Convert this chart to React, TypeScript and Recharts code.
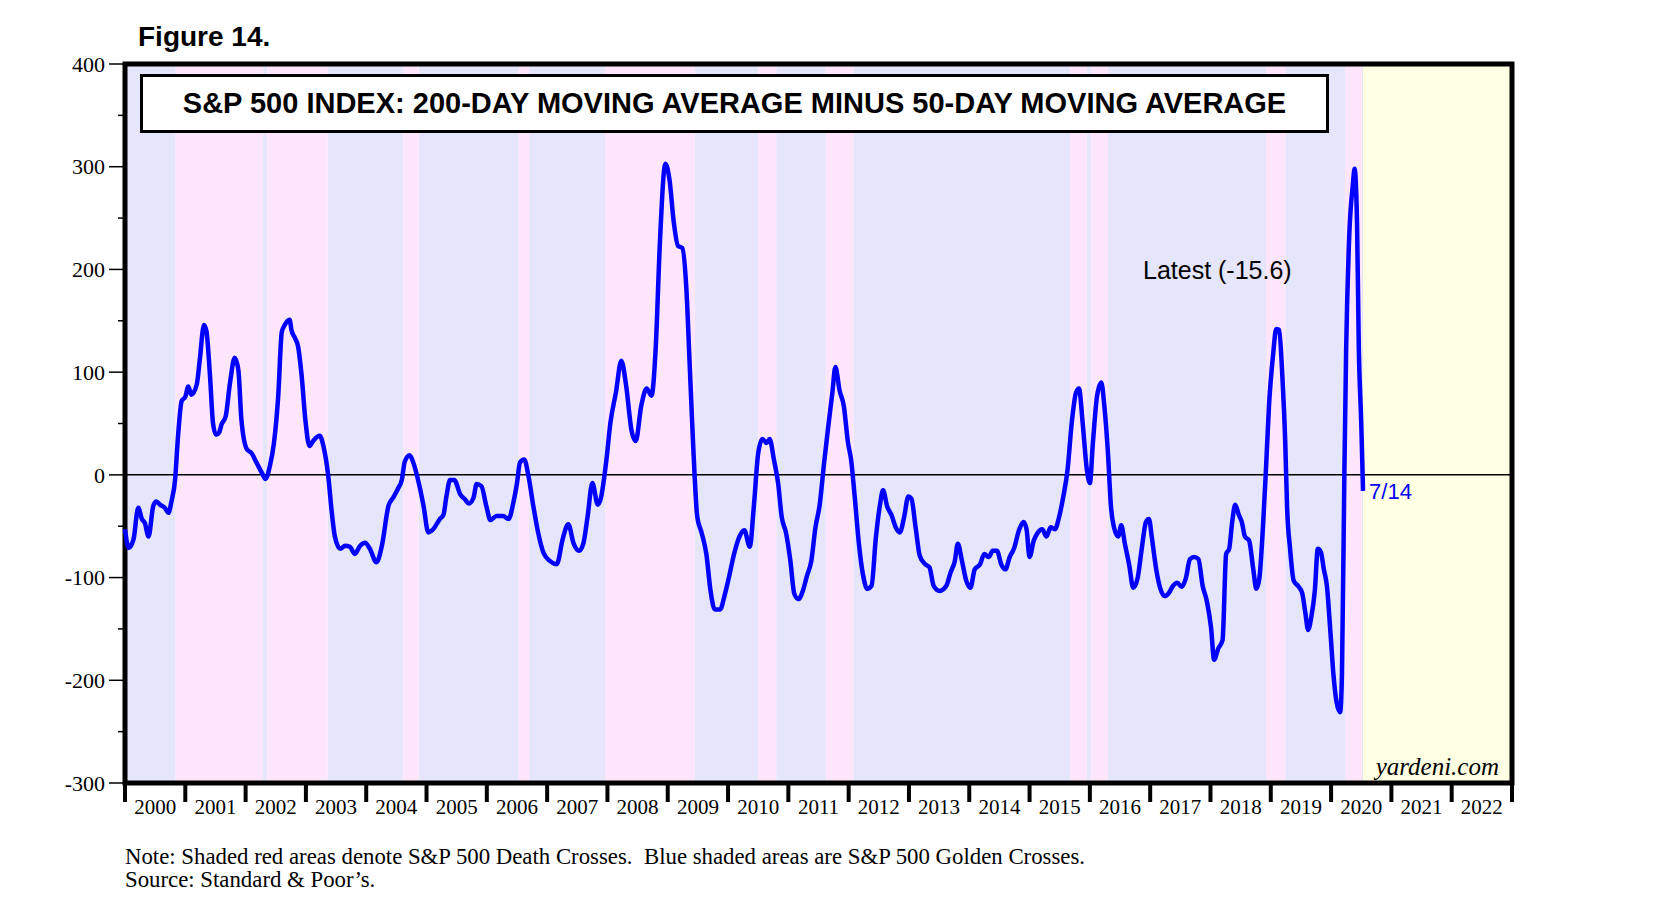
import React from "react";
import {
  LineChart,
  Line,
  XAxis,
  YAxis,
  ReferenceArea,
  ReferenceLine,
  ReferenceDot,
} from "recharts";

// dates as decimal years, spread = 200dma - 50dma (S&P 500 points)
const dates = [
  2000.0, 2000.06, 2000.14, 2000.22, 2000.28, 2000.33, 2000.39, 2000.47, 2000.52, 2000.58, 2000.66, 2000.72, 2000.77, 2000.83, 2000.88, 2000.94,
  2001.0, 2001.05, 2001.1, 2001.19, 2001.24, 2001.31, 2001.35, 2001.41, 2001.46, 2001.51, 2001.56, 2001.6, 2001.67, 2001.74, 2001.82, 2001.88, 2001.93,
  2002.02, 2002.1, 2002.18, 2002.27, 2002.33, 2002.4, 2002.47, 2002.54, 2002.6, 2002.65, 2002.73, 2002.76, 2002.82, 2002.87, 2002.93, 2002.99,
  2003.06, 2003.12, 2003.23, 2003.29, 2003.37, 2003.43, 2003.48, 2003.57, 2003.65, 2003.73, 2003.81, 2003.9, 2003.98,
  2004.06, 2004.17, 2004.26, 2004.37, 2004.45, 2004.53, 2004.59, 2004.64, 2004.72, 2004.78, 2004.86, 2004.95,
  2005.03, 2005.11, 2005.22, 2005.28, 2005.33, 2005.39, 2005.46, 2005.56, 2005.64, 2005.7, 2005.78, 2005.83, 2005.91, 2005.99,
  2006.06, 2006.16, 2006.27, 2006.36, 2006.44, 2006.5, 2006.55, 2006.62, 2006.69, 2006.77, 2006.85, 2006.94,
  2007.05, 2007.16, 2007.26, 2007.35, 2007.44, 2007.53, 2007.6, 2007.67, 2007.75, 2007.84, 2007.89, 2007.98,
  2008.05, 2008.14, 2008.23, 2008.31, 2008.4, 2008.47, 2008.56, 2008.65, 2008.73, 2008.8, 2008.87, 2008.96,
  2009.03, 2009.1, 2009.17, 2009.24, 2009.31, 2009.36, 2009.42, 2009.49, 2009.56, 2009.64, 2009.71, 2009.78, 2009.87, 2009.94,
  2010.01, 2010.1, 2010.19, 2010.27, 2010.36, 2010.43, 2010.5, 2010.57, 2010.64, 2010.69, 2010.76, 2010.83, 2010.89, 2010.96,
  2011.03, 2011.1, 2011.17, 2011.24, 2011.31, 2011.38, 2011.45, 2011.52, 2011.59, 2011.66, 2011.73, 2011.78, 2011.85, 2011.92, 2011.99,
  2012.04, 2012.1, 2012.17, 2012.24, 2012.31, 2012.38, 2012.45, 2012.52, 2012.57, 2012.64, 2012.71, 2012.78, 2012.85, 2012.92, 2012.99,
  2013.04, 2013.11, 2013.18, 2013.27, 2013.34, 2013.41, 2013.51, 2013.62, 2013.69, 2013.76, 2013.81, 2013.88, 2013.95,
  2014.02, 2014.09, 2014.18, 2014.25, 2014.32, 2014.39, 2014.46, 2014.53, 2014.6, 2014.67, 2014.74, 2014.83, 2014.9, 2014.95,
  2015.0, 2015.07, 2015.14, 2015.21, 2015.28, 2015.35, 2015.42, 2015.49, 2015.56, 2015.63, 2015.7, 2015.77, 2015.82, 2015.88, 2015.95,
  2016.0, 2016.05, 2016.12, 2016.19, 2016.24, 2016.3, 2016.35, 2016.4, 2016.47, 2016.52, 2016.58, 2016.65, 2016.72, 2016.79, 2016.86, 2016.93, 2016.98,
  2017.03, 2017.1, 2017.17, 2017.24, 2017.31, 2017.38, 2017.45, 2017.52, 2017.59, 2017.66, 2017.73, 2017.8, 2017.87, 2017.94,
  2018.01, 2018.06, 2018.13, 2018.2, 2018.26, 2018.31, 2018.36, 2018.41, 2018.47, 2018.52, 2018.57, 2018.64, 2018.71, 2018.76, 2018.81, 2018.87, 2018.92, 2018.97,
  2019.04, 2019.09, 2019.14, 2019.19, 2019.24, 2019.27, 2019.32, 2019.38, 2019.45, 2019.52, 2019.57, 2019.62, 2019.67, 2019.73, 2019.78, 2019.83, 2019.88, 2019.93, 2019.99,
  2020.04, 2020.09, 2020.15, 2020.18, 2020.22, 2020.25, 2020.3, 2020.36, 2020.39, 2020.43, 2020.46, 2020.5, 2020.53,
];

const spread = [
  -53, -71, -63, -32, -43, -47, -60, -30, -26, -29, -32, -37, -26, -5, 38, 72,
  76, 86, 78, 88, 112, 146, 140, 96, 50, 39, 41, 49, 57, 89, 114, 102, 54,
  25, 21, 12, 2, -4, 8, 31, 76, 139, 146, 151, 141, 133, 125, 96, 54,
  28, 33, 38, 28, -1, -37, -60, -72, -69, -70, -77, -69, -66,
  -72, -85, -69, -30, -22, -13, -5, 13, 19, 12, -5, -30,
  -56, -53, -43, -39, -21, -5, -5, -19, -24, -28, -22, -9, -11, -30,
  -44, -40, -40, -43, -27, -8, 12, 15, -1, -30, -56, -76,
  -84, -87, -62, -48, -67, -74, -67, -41, -8, -29, -23, 13,
  51, 80, 111, 87, 43, 33, 67, 84, 77, 123, 226, 303,
  287, 246, 223, 221, 180, 113, 31, -41, -56, -77, -113, -131, -131, -118,
  -101, -77, -60, -54, -70, -29, 21, 35, 31, 35, 15, -8, -41, -56,
  -82, -116, -121, -113, -98, -84, -51, -29, 10, 46, 80, 105, 82, 67, 31,
  15, -21, -67, -98, -111, -108, -62, -29, -15, -31, -39, -51, -56, -41, -21,
  -23, -51, -79, -87, -90, -108, -113, -108, -95, -84, -67, -84, -103,
  -110, -92, -87, -77, -80, -74, -74, -87, -92, -80, -72, -53, -46, -53,
  -80, -64, -56, -53, -60, -51, -53, -41, -21, 5, 51, 80, 84, 51, 5,
  -8, 31, 77, 90, 67, 21, -31, -51, -60, -49, -67, -87, -110, -101, -72, -46, -43,
  -62, -92, -111, -118, -115, -108, -105, -109, -101, -82, -80, -82, -108, -123,
  -149, -180, -169, -161, -77, -72, -46, -29, -39, -46, -60, -64, -92, -111, -101, -51, 5, 67,
  118, 142, 141, 98, 31, -31, -72, -103, -108, -115, -133, -151, -139, -113, -72, -75, -92, -108, -154,
  -195, -221, -231, -195, 0, 123, 231, 282, 298, 246, 123, 51, -15.6,
];

// shaded periods [start, end] in decimal years
const deathCrosses = [
  [2000.84, 2002.29], [2002.36, 2003.36], [2004.62, 2004.87], [2006.53, 2006.7],
  [2007.96, 2009.45], [2010.5, 2010.8], [2011.62, 2012.08], [2015.67, 2015.95],
  [2016.02, 2016.3], [2018.92, 2019.24], [2020.23, 2020.51],
];
const goldenCrosses = [
  [2000.0, 2000.84], [2002.29, 2002.36], [2003.36, 2004.62], [2004.87, 2006.53],
  [2006.7, 2007.96], [2009.45, 2010.5], [2010.8, 2011.62], [2012.08, 2015.67],
  [2015.95, 2016.02], [2016.3, 2018.92], [2019.24, 2020.23], [2020.51, 2020.53],
];
const forecastPeriod = [2020.53, 2023];

const yearLabels = [
  2000, 2001, 2002, 2003, 2004, 2005, 2006, 2007, 2008, 2009, 2010, 2011,
  2012, 2013, 2014, 2015, 2016, 2017, 2018, 2019, 2020, 2021, 2022,
];
const yTicks = [-300, -250, -200, -150, -100, -50, 0, 50, 100, 150, 200, 250, 300, 350, 400];

const latestLabel = "7/14";

const data = dates.map((d, i) => ({ date: d, value: spread[i] }));
const xTicks = [...yearLabels.flatMap((y) => [y, y + 0.5]), 2023];

const SERIF = "Liberation Serif, Times New Roman, serif";
const SANS = "Liberation Sans, Arial, sans-serif";

const YearTick = (props: any) => {
  const { x, y, payload } = props;
  const v = payload.value;
  if (Number.isInteger(v)) {
    return <line x1={x} x2={x} y1={y} y2={y + 19} stroke="#000" strokeWidth={4} />;
  }
  return (
    <text x={x} y={y + 31} textAnchor="middle" style={{ fontFamily: SERIF, fontSize: 21 }} fill="#000">
      {Math.floor(v)}
    </text>
  );
};

const LeftTick = (props: any) => {
  const { x, y, payload } = props;
  const major = payload.value % 100 === 0;
  return (
    <g>
      <line x1={x - (major ? 16 : 7)} x2={x} y1={y} y2={y} stroke="#000" strokeWidth={1.5} />
      {major && (
        <text x={x - 20} y={y} dy="0.35em" textAnchor="end" style={{ fontFamily: SERIF, fontSize: 22 }} fill="#000">
          {payload.value}
        </text>
      )}
    </g>
  );
};

const RightTick = (props: any) => {
  const { x, y, payload } = props;
  const major = payload.value % 100 === 0;
  return (
    <g>
      <line x1={x} x2={x + (major ? 16 : 7)} y1={y} y2={y} stroke="#000" strokeWidth={1.5} />
      {major && (
        <text x={x + 22} y={y} dy="0.35em" textAnchor="start" style={{ fontFamily: SERIF, fontSize: 22 }} fill="#000">
          {payload.value}
        </text>
      )}
    </g>
  );
};

export default function App() {
  const last = data[data.length - 1];
  return (
    <div style={{ position: "relative", width: 1640, height: 900, background: "#fff" }}>
      <LineChart
        width={1640}
        height={900}
        data={data}
        margin={{ top: 56, right: 56, bottom: 85, left: 57 }}
      >
        <XAxis
          dataKey="date"
          type="number"
          domain={[2000, 2023]}
          ticks={xTicks}
          interval={0}
          tick={<YearTick />}
          tickLine={false}
          tickSize={0}
          tickMargin={0}
          axisLine={false}
          height={40}
        />
        <YAxis
          yAxisId="left"
          type="number"
          domain={[-300, 400]}
          ticks={yTicks}
          interval={0}
          tick={<LeftTick />}
          tickLine={false}
          tickSize={0}
          tickMargin={0}
          axisLine={false}
          width={60}
        />
        <YAxis
          yAxisId="right"
          orientation="right"
          type="number"
          domain={[-300, 400]}
          ticks={yTicks}
          interval={0}
          tick={<RightTick />}
          tickLine={false}
          tickSize={0}
          tickMargin={0}
          axisLine={false}
          width={80}
        />
        {goldenCrosses.map(([a, b], i) => (
          <ReferenceArea key={"g" + i} yAxisId="left" x1={a} x2={b} fill="#e5e5fc" fillOpacity={1} stroke="none" />
        ))}
        {deathCrosses.map(([a, b], i) => (
          <ReferenceArea key={"d" + i} yAxisId="left" x1={a} x2={b} fill="#fde5fc" fillOpacity={1} stroke="none" />
        ))}
        <ReferenceArea
          yAxisId="left"
          x1={forecastPeriod[0]}
          x2={forecastPeriod[1]}
          fill="#ffffe3"
          fillOpacity={1}
          stroke="none"
        />
        <ReferenceLine yAxisId="left" y={0} stroke="#000" strokeWidth={1.5} />
        <Line
          yAxisId="left"
          dataKey="value"
          type="monotone"
          stroke="#0000ff"
          strokeWidth={4.5}
          strokeLinejoin="round"
          dot={false}
          isAnimationActive={false}
        />
        <ReferenceDot
          yAxisId="left"
          x={last.date}
          y={last.value}
          r={0}
          fill="none"
          stroke="none"
          label={{ value: latestLabel, position: "right", fill: "#0000ff", fontSize: 22, fontFamily: SANS, offset: 6 }}
        />
        <ReferenceArea
          yAxisId="left"
          x1={2000}
          x2={2023}
          y1={-300}
          y2={400}
          fill="none"
          stroke="#000"
          strokeWidth={5}
        />
      </LineChart>

      <div
        style={{
          position: "absolute",
          left: 130,
          top: 15,
          fontFamily: SANS,
          fontWeight: "bold",
          fontSize: 28,
          lineHeight: 1,
        }}
      >
        Figure 14.
      </div>
      <div
        style={{
          position: "absolute",
          left: 132,
          top: 66,
          width: 1189,
          height: 59,
          boxSizing: "border-box",
          border: "3px solid #000",
          background: "#fff",
          display: "flex",
          alignItems: "center",
          justifyContent: "center",
          fontFamily: SANS,
          fontWeight: "bold",
          fontSize: 29,
        }}
      >
        S&amp;P 500 INDEX: 200-DAY MOVING AVERAGE MINUS 50-DAY MOVING AVERAGE
      </div>
      <div
        style={{
          position: "absolute",
          left: 1135,
          top: 250,
          fontFamily: SANS,
          fontSize: 25,
          lineHeight: 1,
        }}
      >
        Latest (-15.6)
      </div>
      <div
        style={{
          position: "absolute",
          right: 1640 - 1491,
          top: 746,
          fontFamily: SERIF,
          fontStyle: "italic",
          fontSize: 25,
          lineHeight: 1,
        }}
      >
        yardeni.com
      </div>
      <div
        style={{
          position: "absolute",
          left: 117,
          top: 837,
          fontFamily: SERIF,
          fontSize: 22.8,
          lineHeight: "23px",
          whiteSpace: "pre",
        }}
      >
        {"Note: Shaded red areas denote S&P 500 Death Crosses.  Blue shaded areas are S&P 500 Golden Crosses.\nSource: Standard & Poor\u2019s."}
      </div>
    </div>
  );
}
